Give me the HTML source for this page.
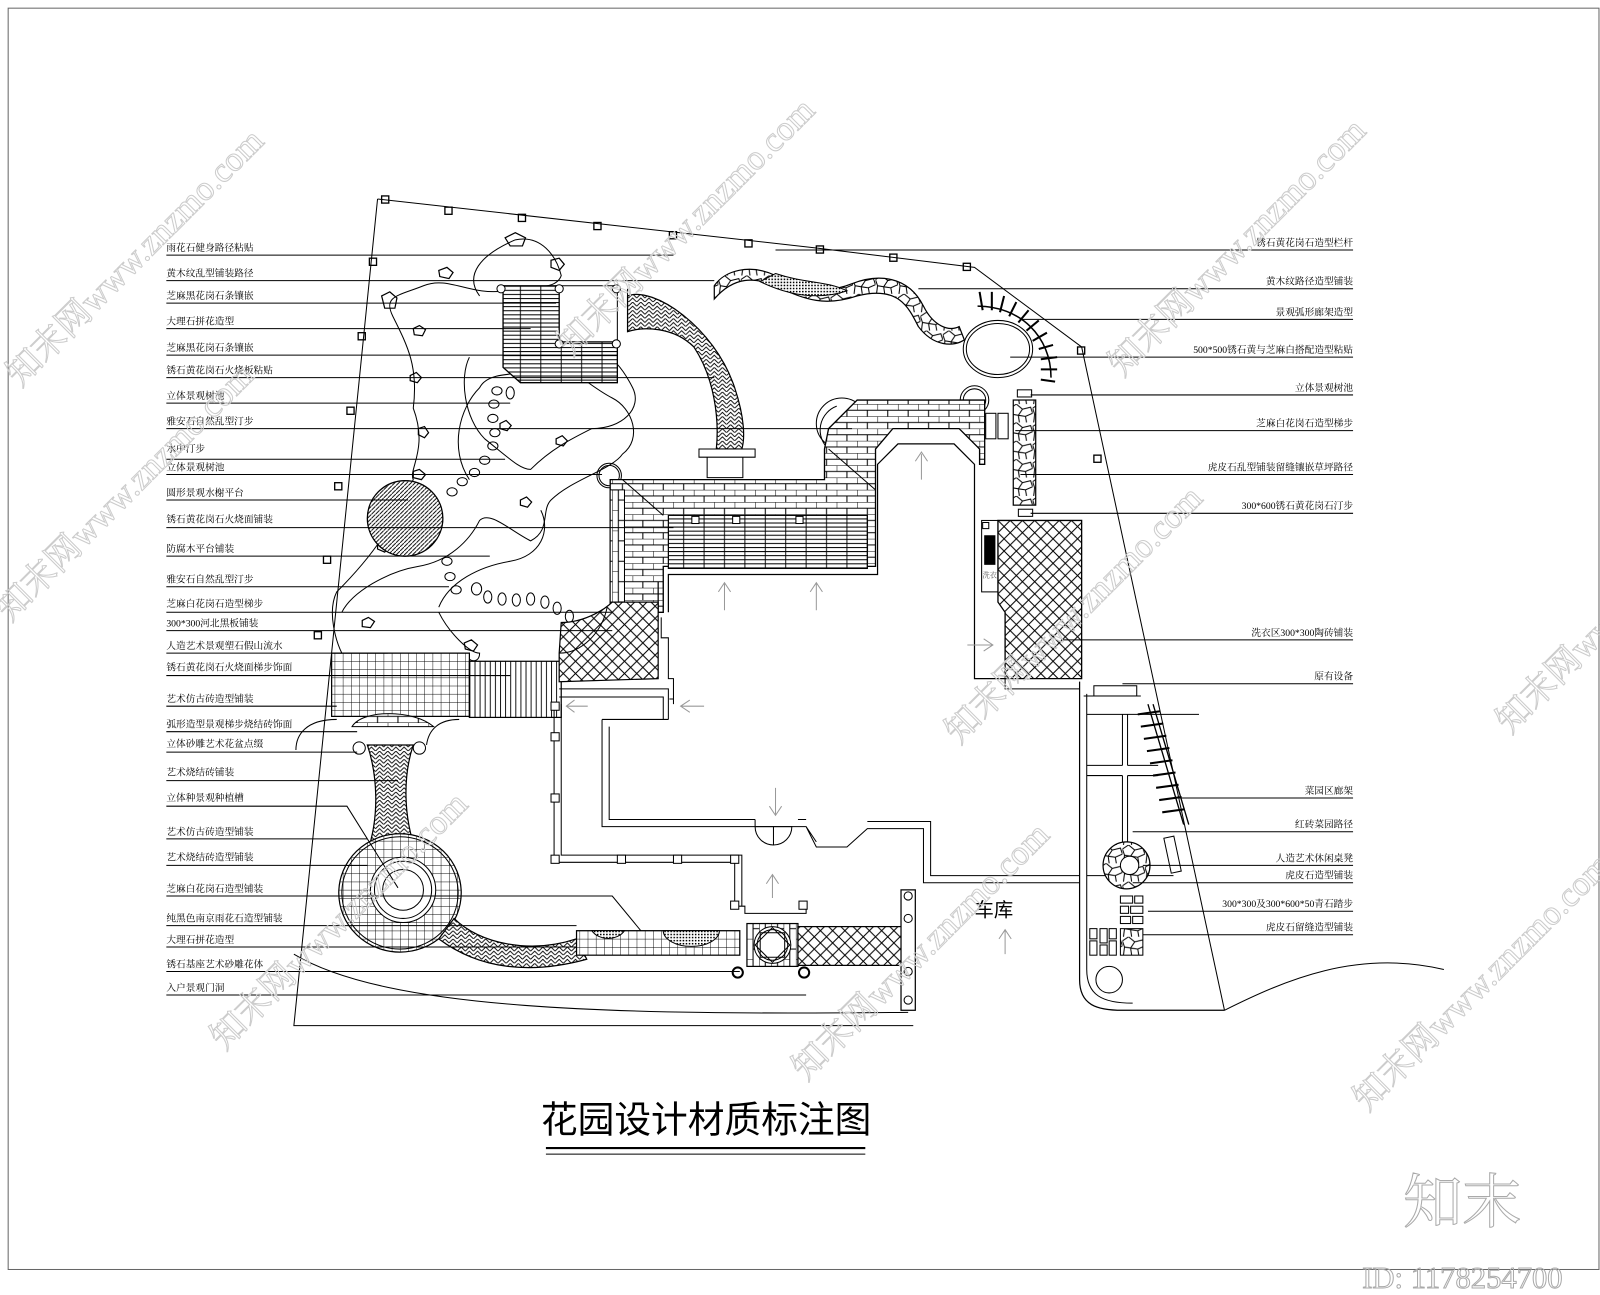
<!DOCTYPE html>
<html><head><meta charset="utf-8"><style>
html,body{margin:0;padding:0;background:#fff;}
svg{display:block}
text{font-family:"Liberation Serif","Noto Serif CJK SC",serif;}
</style></head><body>
<svg width="1600" height="1295" viewBox="0 0 1568 1269" preserveAspectRatio="none" xmlns="http://www.w3.org/2000/svg">
<defs>
<pattern id="brick" width="20" height="12" patternUnits="userSpaceOnUse"><rect width="20" height="12" fill="#fff"/><path d="M0 0H20M0 6H20M0 0V6M10 6V12" stroke="#000" stroke-width="1"/></pattern>
<pattern id="vbrick" width="12" height="20" patternUnits="userSpaceOnUse"><rect width="12" height="20" fill="#fff"/><path d="M0 0V20M6 0V20M0 0H6M6 10H12" stroke="#000" stroke-width="1"/></pattern>
<pattern id="cross" width="12" height="12" patternUnits="userSpaceOnUse"><rect width="12" height="12" fill="#fff"/><path d="M0 0L12 12M12 0L0 12" stroke="#000" stroke-width="1"/></pattern>
<pattern id="grid" width="8" height="8" patternUnits="userSpaceOnUse"><rect width="8" height="8" fill="#fff"/><path d="M0 0H8M0 0V8" stroke="#000" stroke-width="0.9"/></pattern>
<pattern id="hline" width="20" height="4" patternUnits="userSpaceOnUse"><rect width="20" height="4" fill="#fff"/><path d="M0 0.5H20M10 0.5V4" stroke="#000" stroke-width="0.9"/></pattern>
<pattern id="vline" width="5" height="10" patternUnits="userSpaceOnUse"><rect width="5" height="10" fill="#fff"/><path d="M0.5 0V10" stroke="#000" stroke-width="0.9"/></pattern>
<pattern id="herr" width="8" height="8" patternUnits="userSpaceOnUse"><rect width="8" height="8" fill="#fff"/><path d="M0 8L4 4L8 8M0 4L4 0L8 4" stroke="#000" stroke-width="0.9" fill="none"/></pattern>
<pattern id="diag" width="4" height="4" patternUnits="userSpaceOnUse"><rect width="4" height="4" fill="#fff"/><path d="M0 4L4 0" stroke="#000" stroke-width="0.9"/></pattern>
<pattern id="dots" width="3" height="3" patternUnits="userSpaceOnUse"><rect width="3" height="3" fill="#fff"/><rect width="1.5" height="1.5" fill="#000"/></pattern>
<pattern id="stone" width="22" height="18" patternUnits="userSpaceOnUse"><rect width="22" height="18" fill="#fff"/><path d="M0 4L6 0L12 5L8 11L2 10Z M12 5L20 3L22 9L15 12L8 11 M2 10L1 18 M8 11L9 18 M15 12L16 18" stroke="#000" stroke-width="1" fill="none"/></pattern>
</defs>
<g fill="none" stroke="#000" stroke-width="1">
<rect x="8" y="8" width="1559" height="1236" stroke="#666"/>
<!-- site boundary -->
<path d="M370 195 L800 243 L955 262 L1060 340 L1200 990"/>
<path d="M370 195 L288 1005 L895 1005"/>
<path d="M288 935 C380 990 600 995 890 992"/>
<g stroke-width="1.3">
<rect x="374" y="192" width="7" height="7"/><rect x="436" y="203" width="7" height="7"/><rect x="508" y="210" width="7" height="7"/><rect x="582" y="218" width="7" height="7"/><rect x="656" y="227" width="7" height="7"/><rect x="730" y="235" width="7" height="7"/><rect x="800" y="241" width="7" height="7"/><rect x="872" y="249" width="7" height="7"/><rect x="944" y="258" width="7" height="7"/><rect x="1056" y="340" width="7" height="7"/><rect x="1072" y="446" width="7" height="7"/>
<rect x="362" y="253" width="7" height="7"/><rect x="351" y="326" width="7" height="7"/><rect x="340" y="399" width="7" height="7"/><rect x="328" y="473" width="7" height="7"/><rect x="317" y="545" width="7" height="7"/><rect x="308" y="619" width="7" height="7"/>
</g>
<!-- left garden pond outline -->
<path d="M505 235 C530 230 545 250 550 270 C545 285 520 280 495 285 C460 290 440 270 415 280 C390 290 375 290 385 310 C400 340 410 360 405 400 C420 440 400 460 405 470 C390 500 380 530 330 580 C320 600 330 630 335 640 M335 600 C345 580 380 560 410 555 C440 550 460 530 470 510 C480 500 500 520 520 530 C540 520 530 500 540 490 C560 470 600 460 610 445 C630 430 620 400 600 390 C580 380 560 360 550 360 C520 370 480 360 470 380 C450 400 440 440 460 470 M505 235 C470 250 455 270 470 290"/>
<path d="M430 595 C440 570 470 555 500 550 C530 545 540 520 530 500 M430 600 C440 620 460 640 470 640 C470 650 460 650 455 640"/>
<path d="M460 350 C450 370 455 410 475 430 C500 450 510 460 520 460 C540 440 560 430 580 420 C610 420 630 400 620 380 C610 360 600 350 590 345"/>
<g stroke-width="1.2">
<path d="M495 233 l10 -5 l10 5 l-3 8 l-12 0z M374 290 l8 -4 l7 6 l-2 10 l-10 0z M430 265 l8 -3 l6 5 l-4 6 l-9 -2z M540 255 l8 -2 l5 6 l-5 6 l-8 -3z M405 322 l6 -3 l6 4 l-3 6 l-8 -1z M402 368 l6 -3 l5 5 l-4 5 l-7 -2z M410 420 l6 -2 l4 6 l-4 5 l-6 -3z M405 462 l6 -2 l6 5 l-4 5 l-8 -2z M370 533 l6 -3 l6 5 l-5 6 l-7 -3z M455 630 l7 -3 l6 5 l-4 6 l-8 -2z M355 608 l6 -3 l6 4 l-4 6 l-8 -1z M490 415 l6 -3 l5 5 l-4 5 l-7 -2z M545 430 l6 -3 l5 5 l-4 5 l-7 -2z M510 490 l6 -3 l5 5 l-4 5 l-7 -2z"/>
</g>
<g>
<ellipse cx="487" cy="383" rx="5" ry="4"/><ellipse cx="484" cy="396" rx="5" ry="4"/><ellipse cx="483" cy="410" rx="5" ry="4"/><ellipse cx="485" cy="424" rx="5" ry="4"/><ellipse cx="483" cy="437" rx="5" ry="4"/><ellipse cx="475" cy="451" rx="5" ry="4"/><ellipse cx="465" cy="463" rx="5" ry="4"/><ellipse cx="453" cy="472" rx="5" ry="4"/><ellipse cx="443" cy="482" rx="5" ry="4"/><ellipse cx="500" cy="385" rx="4" ry="6"/>
<ellipse cx="438" cy="550" rx="5" ry="4"/><ellipse cx="441" cy="565" rx="5" ry="4"/><ellipse cx="447" cy="578" rx="5" ry="4"/><ellipse cx="467" cy="577" rx="5" ry="6"/><ellipse cx="478" cy="585" rx="4" ry="6"/><ellipse cx="492" cy="587" rx="4" ry="6"/><ellipse cx="506" cy="588" rx="4" ry="6"/><ellipse cx="520" cy="587" rx="4" ry="6"/><ellipse cx="534" cy="590" rx="4" ry="6"/><ellipse cx="546" cy="596" rx="4" ry="6"/><ellipse cx="558" cy="604" rx="4" ry="6"/>
</g>
<circle cx="397" cy="508" r="37" fill="url(#diag)" stroke-width="1.3"/>
<path d="M493 280 H548 V335 H605 V375 H510 L493 360 Z" fill="url(#hline)" stroke-width="1.3"/>
<path d="M548 280 H605 V335" stroke-width="1"/>
<circle cx="491" cy="283" r="4" fill="#fff"/><circle cx="548" cy="283" r="4" fill="#fff"/><circle cx="604" cy="283" r="4" fill="#fff"/><circle cx="548" cy="337" r="4" fill="#fff"/><circle cx="604" cy="337" r="4" fill="#fff"/>
<!-- herringbone winding path -->
<path d="M615 290 C640 280 700 320 720 380 C730 410 730 430 727 440 L702 440 C705 410 700 370 680 340 C660 320 630 320 615 325 Z" fill="url(#herr)" stroke-width="1.2"/>
<path d="M685 440 H740 V448 H685 Z M693 448 H728 V468 H693 Z" fill="#fff"/>
<path d="M615 283 V325" />
<!-- stone/dot winding path -->
<path d="M700 293 C720 270 740 272 760 280 C790 295 810 300 840 290 C880 280 890 300 900 320 C915 340 935 340 945 333 L940 320 C930 325 915 320 905 300 C890 270 860 268 835 278 C810 288 790 285 760 270 C735 258 710 265 700 280 Z" fill="url(#stone)" stroke-width="1.2"/>
<path d="M745 276 C770 288 800 295 830 285 C810 275 790 278 760 268 Z" fill="url(#dots)"/>
<!-- arbor circle -->
<ellipse cx="978" cy="342" rx="34" ry="28"/><ellipse cx="978" cy="342" rx="31" ry="25"/>
<path d="M958 300 C1000 300 1030 330 1030 370" stroke-width="1.5"/>
<g stroke-width="2"><path d="M960 286 l3 18 M972 286 l0 18 M984 290 l-4 16 M996 296 l-7 14 M1008 304 l-10 12 M1018 314 l-12 10 M1026 326 l-14 8 M1032 338 l-14 4 M1036 350 l-16 2 M1036 362 l-16 0 M1034 374 l-14 -2"/></g>
<!-- circles -->
<circle cx="955" cy="392" r="14"/><circle cx="955" cy="392" r="11"/>
<circle cx="597" cy="466" r="12"/><circle cx="597" cy="466" r="10"/>
<path d="M820 398 A25 25 0 0 0 812 440" />
<circle cx="825" cy="415" r="25"/>
<!-- brick terrace -->
<path d="M812 420 L840 392 L965 392 L965 455 L960 455 L960 440 L940 420 L875 420 L858 440 L858 555 L650 555 L650 600 L598 600 L598 470 L808 470 L808 440 Z" fill="url(#brick)" stroke-width="1.3"/>
<path d="M598 480 H612 V600 H598 Z" fill="url(#vbrick)"/>
<path d="M610 470 L650 505 M812 440 L858 480"/>
<rect x="655" y="505" width="195" height="52" fill="url(#hline)" stroke-width="1.2"/>
<rect x="678" y="506" width="7" height="7" fill="#fff"/><rect x="718" y="506" width="7" height="7" fill="#fff"/><rect x="780" y="506" width="7" height="7" fill="#fff"/>
<!-- building walls -->
<path d="M645 600 V570 M655 600 L655 563 L860 563 L860 455 L880 435 L935 435 L955 455 L955 665 L985 665" stroke-width="1.2"/>
<path d="M648 605 V625 H655 V665 L660 665 V690 M985 665 V675 L1058 675"/>
<rect x="962" y="510" width="16" height="70" fill="#fff"/><rect x="965" y="525" width="10" height="28" fill="#000"/><rect x="963" y="512" width="6" height="6"/>
<text x="963" y="566" font-size="7" fill="#555" stroke="none">洗衣区</text>
<path d="M978 510 H1060 V665 H985 V600 L978 590 Z" fill="url(#cross)" stroke-width="1.3"/>
<!-- tiger stone path right -->
<rect x="993" y="392" width="22" height="103" fill="url(#stone)" stroke-width="1.2"/>
<rect x="997" y="382" width="14" height="7"/><rect x="998" y="499" width="14" height="7"/>
<rect x="966" y="405" width="10" height="25"/><rect x="978" y="405" width="10" height="25"/>
<!-- lower left area -->
<rect x="325" y="640" width="135" height="62" fill="url(#grid)" stroke-width="1.2"/>
<rect x="460" y="648" width="90" height="55" fill="url(#vline)" stroke-width="1.2"/>
<path d="M548 640 L550 610 C575 610 595 595 600 590 L645 590 V665 L548 668 Z" fill="url(#cross)" stroke-width="1.2"/>
<path d="M548 640 C570 640 590 620 595 595"/>
<path d="M345 712 C355 695 405 695 425 712 Z" fill="url(#brick)"/>
<path d="M330 705 C300 705 290 720 290 735 M450 705 C430 705 420 715 418 730"/>
<circle cx="352" cy="733" r="6" fill="#fff"/><circle cx="411" cy="733" r="6" fill="#fff"/>
<path d="M360 730 H405 C395 760 395 800 408 835 H360 C372 800 370 760 360 730 Z" fill="url(#herr)" stroke-width="1.2"/>
<ellipse cx="392" cy="875" rx="60" ry="58" fill="url(#grid)" stroke-width="1.2"/>
<ellipse cx="392" cy="875" rx="57" ry="55"/>
<circle cx="395" cy="872" r="32" fill="#fff"/><circle cx="395" cy="872" r="28"/><circle cx="395" cy="872" r="20"/>
<path d="M445 900 C470 925 520 935 565 920 L575 940 C520 955 470 950 430 920 Z" fill="url(#herr)" stroke-width="1.2"/>
<rect x="565" y="912" width="160" height="24" fill="url(#grid)" stroke-width="1.2"/>
<path d="M580 912 A18 14 0 0 0 612 912 Z M650 912 A25 14 0 0 0 705 912 Z" fill="url(#dots)"/>
<rect x="732" y="905" width="50" height="42" fill="url(#vbrick)" stroke-width="1.2"/>
<circle cx="757" cy="926" r="18" fill="#fff"/><circle cx="757" cy="926" r="15"/>
<path d="M745 914 H769 V938 H745 Z M757 909 L774 926 L757 943 L740 926 Z"/>
<rect x="782" y="908" width="105" height="38" fill="url(#cross)" stroke-width="1.2"/>
<rect x="883" y="872" width="14" height="118" fill="#fff" stroke-width="1.2"/>
<circle cx="890" cy="878" r="4"/><circle cx="890" cy="900" r="4"/><circle cx="890" cy="952" r="4"/><circle cx="890" cy="980" r="4"/>
<circle cx="723" cy="953" r="5" stroke-width="2"/><circle cx="788" cy="953" r="5" stroke-width="2"/>
<!-- walkway frame -->
<path d="M543 690 V845 H720 V888 H730 V895 H790 V888 M550 690 V838 H727 V888" />
<rect x="540" y="688" width="8" height="8" fill="#fff"/><rect x="540" y="718" width="8" height="8" fill="#fff"/><rect x="540" y="778" width="8" height="8" fill="#fff"/><rect x="540" y="838" width="8" height="8" fill="#fff"/><rect x="605" y="838" width="8" height="8" fill="#fff"/><rect x="660" y="838" width="8" height="8" fill="#fff"/><rect x="716" y="838" width="8" height="8" fill="#fff"/><rect x="716" y="883" width="8" height="8" fill="#fff"/><rect x="783" y="883" width="8" height="8" fill="#fff"/>
<path d="M548 675 H655 V705 M548 683 H650 V705 M656 685 H660" />
<path d="M590 705 H655 M590 705 V810 H740 M597 712 V803 H740 M740 803 V810 M740 810 H790 L800 830 H830 L850 812 H905 V865 H1058 M790 803 H782 M790 810 L800 825 M850 805 H912 V858 H1058" />
<path d="M740 810 A18 18 0 0 0 776 810 Z M758 810 V828"/>
<!-- right garden -->
<path d="M1058 668 V960 C1058 985 1075 990 1100 990 H1200" stroke-width="1.2"/>
<path d="M1065 680 V950 C1065 975 1080 983 1110 983"/>
<path d="M1200 990 C1260 960 1330 930 1415 950"/>
<path d="M1062 682 H1118 M1065 700 H1175 M1065 750 H1100 M1105 750 H1135 M1065 760 H1100 M1105 760 H1135 M1100 700 V750 M1105 700 V750 M1100 760 V830 M1105 760 V830 M1065 858 H1150"/>
<rect x="1072" y="672" width="42" height="10"/>
<path d="M1125 690 L1160 808 M1130 690 L1165 808" stroke-width="1.3"/>
<g stroke-width="2"><path d="M1115 700 l22 -3 M1118 712 l22 -3 M1121 724 l22 -3 M1124 736 l22 -3 M1127 748 l22 -3 M1130 760 l22 -3 M1133 772 l22 -3 M1136 784 l22 -3 M1139 796 l22 -3"/></g>
<circle cx="1104" cy="848" r="23" fill="url(#stone)" stroke-width="1.2"/>
<circle cx="1107" cy="848" r="9" fill="#fff"/>
<rect x="1144" y="820" width="10" height="35" transform="rotate(-12 1149 837)"/>
<rect x="1098" y="878" width="12" height="7"/><rect x="1112" y="878" width="8" height="7"/><rect x="1098" y="888" width="8" height="7"/><rect x="1108" y="888" width="12" height="7"/><rect x="1098" y="898" width="10" height="7"/><rect x="1110" y="898" width="10" height="7"/>
<rect x="1068" y="910" width="7" height="10"/><rect x="1068" y="922" width="7" height="14"/><rect x="1078" y="910" width="7" height="14"/><rect x="1078" y="926" width="7" height="10"/><rect x="1087" y="910" width="7" height="10"/><rect x="1087" y="922" width="7" height="14"/>
<rect x="1098" y="910" width="22" height="26" fill="url(#stone)"/>
<circle cx="1087" cy="960" r="13"/>
<!-- arrows (gray) -->
<g stroke="#999">
<path d="M903 470 V445 M897 452 L903 443 L909 452 M710 598 V572 M704 580 L710 571 L716 580 M800 598 V572 M794 580 L800 571 L806 580 M948 632 H972 M964 626 L973 632 L964 638 M576 692 H556 M563 686 L555 692 L563 698 M690 692 H668 M676 686 L667 692 L676 698 M760 772 V798 M754 790 L760 799 L766 790 M757 880 V858 M751 866 L757 857 L763 866 M985 935 V912 M979 920 L985 911 L991 920"/>
</g>
<!-- label lines left -->
<g stroke-width="1">
<path d="M163 250 H660 M163 275 H700 M163 297 H545 M163 322 H520 M163 348 H605 M163 370 H700 M163 395 H500 M163 420 H835 M163 450 H495 M163 465 H590 M163 490 H400 M163 517 H660 M163 545 H480 M163 575 H440 M163 600 H600 M163 618 H600 M163 640 H380 M163 662 H500 M163 692 H330 M163 717 H350 M163 737 H350 M163 765 H390 M163 790 H340 L390 870 M163 822 H360 M163 848 H360 M163 878 H600 L628 912 M163 907 H565 M163 928 H565 M163 952 H725 M163 975 H790"/>
<path d="M760 245 H1326 M900 283 H1326 M1000 313 H1326 M990 350 H1326 M1010 387 H1326 M995 422 H1326 M1000 465 H1326 M1010 503 H1326 M1040 627 H1326 M1100 670 H1326 M1150 782 H1326 M1110 815 H1326 M1120 848 H1326 M1110 865 H1326 M1125 893 H1326 M1120 916 H1326"/>
</g>
<!-- title underline -->
<path d="M535 1125 H848" stroke-width="2"/><path d="M535 1131 H848"/>
</g>
<g font-size="9.5" fill="#000">
<text x="163" y="246">雨花石健身路径粘贴</text>
<text x="163" y="271">黄木纹乱型铺装路径</text>
<text x="163" y="293">芝麻黑花岗石条镶嵌</text>
<text x="163" y="318">大理石拼花造型</text>
<text x="163" y="344">芝麻黑花岗石条镶嵌</text>
<text x="163" y="366">锈石黄花岗石火烧板粘贴</text>
<text x="163" y="391">立体景观树池</text>
<text x="163" y="416">雅安石自然乱型汀步</text>
<text x="163" y="443">水中汀步</text>
<text x="163" y="461">立体景观树池</text>
<text x="163" y="486">圆形景观水榭平台</text>
<text x="163" y="512">锈石黄花岗石火烧面铺装</text>
<text x="163" y="541">防腐木平台铺装</text>
<text x="163" y="571">雅安石自然乱型汀步</text>
<text x="163" y="595">芝麻白花岗石造型梯步</text>
<text x="163" y="614">300*300河北黑板铺装</text>
<text x="163" y="636">人造艺术景观塑石假山流水</text>
<text x="163" y="657">锈石黄花岗石火烧面梯步饰面</text>
<text x="163" y="688">艺术仿古砖造型铺装</text>
<text x="163" y="713">弧形造型景观梯步烧结砖饰面</text>
<text x="163" y="732">立体砂雕艺术花盆点缀</text>
<text x="163" y="760">艺术烧结砖铺装</text>
<text x="163" y="785">立体种景观种植槽</text>
<text x="163" y="818">艺术仿古砖造型铺装</text>
<text x="163" y="843">艺术烧结砖造型铺装</text>
<text x="163" y="874">芝麻白花岗石造型铺装</text>
<text x="163" y="903">纯黑色南京雨花石造型铺装</text>
<text x="163" y="924">大理石拼花造型</text>
<text x="163" y="948">锈石基座艺术砂雕花体</text>
<text x="163" y="971">入户景观门洞</text>
</g>
<g font-size="9.5" fill="#000" text-anchor="end">
<text x="1326" y="241">锈石黄花岗石造型栏杆</text>
<text x="1326" y="279">黄木纹路径造型铺装</text>
<text x="1326" y="309">景观弧形廊架造型</text>
<text x="1326" y="346">500*500锈石黄与芝麻白搭配造型粘贴</text>
<text x="1326" y="383">立体景观树池</text>
<text x="1326" y="418">芝麻白花岗石造型梯步</text>
<text x="1326" y="461">虎皮石乱型铺装留缝镶嵌草坪路径</text>
<text x="1326" y="499">300*600锈石黄花岗石汀步</text>
<text x="1326" y="623">洗衣区300*300陶砖铺装</text>
<text x="1326" y="666">原有设备</text>
<text x="1326" y="778">菜园区廊架</text>
<text x="1326" y="811">红砖菜园路径</text>
<text x="1326" y="844">人造艺术休闲桌凳</text>
<text x="1326" y="861">虎皮石造型铺装</text>
<text x="1326" y="889">300*300及300*600*50青石踏步</text>
<text x="1326" y="912">虎皮石留缝造型铺装</text>
</g>
<text x="955" y="898" font-size="19" style='font-family:"Liberation Sans","Noto Sans CJK SC",sans-serif'>车库</text>
<text x="692" y="1110" font-size="36" text-anchor="middle" style='font-family:"Liberation Sans","Noto Sans CJK SC",sans-serif'>花园设计材质标注图</text>
<!-- watermarks -->
<g fill="none" stroke="#ccc" stroke-width="1" font-size="34" style='font-family:"Liberation Sans","Noto Sans CJK SC",sans-serif'>
<text transform="translate(20,380) rotate(-45)">知末网www.znzmo.com</text>
<text transform="translate(560,350) rotate(-45)">知末网www.znzmo.com</text>
<text transform="translate(1100,370) rotate(-45)">知末网www.znzmo.com</text>
<text transform="translate(10,610) rotate(-45)">知末网www.znzmo.com</text>
<text transform="translate(940,730) rotate(-45)">知末网www.znzmo.com</text>
<text transform="translate(1480,720) rotate(-45)">知末网www.znzmo.com</text>
<text transform="translate(220,1030) rotate(-45)">知末网www.znzmo.com</text>
<text transform="translate(790,1060) rotate(-45)">知末网www.znzmo.com</text>
<text transform="translate(1340,1090) rotate(-45)">知末网www.znzmo.com</text>
</g>
<g fill="none" stroke="#aaa" stroke-width="1" style='font-family:"Liberation Sans","Noto Sans CJK SC",sans-serif'>
<text x="1375" y="1198" font-size="58">知末</text>
<text x="1335" y="1262" font-size="30">ID: 1178254700</text>
</g>
</svg>
</body></html>
